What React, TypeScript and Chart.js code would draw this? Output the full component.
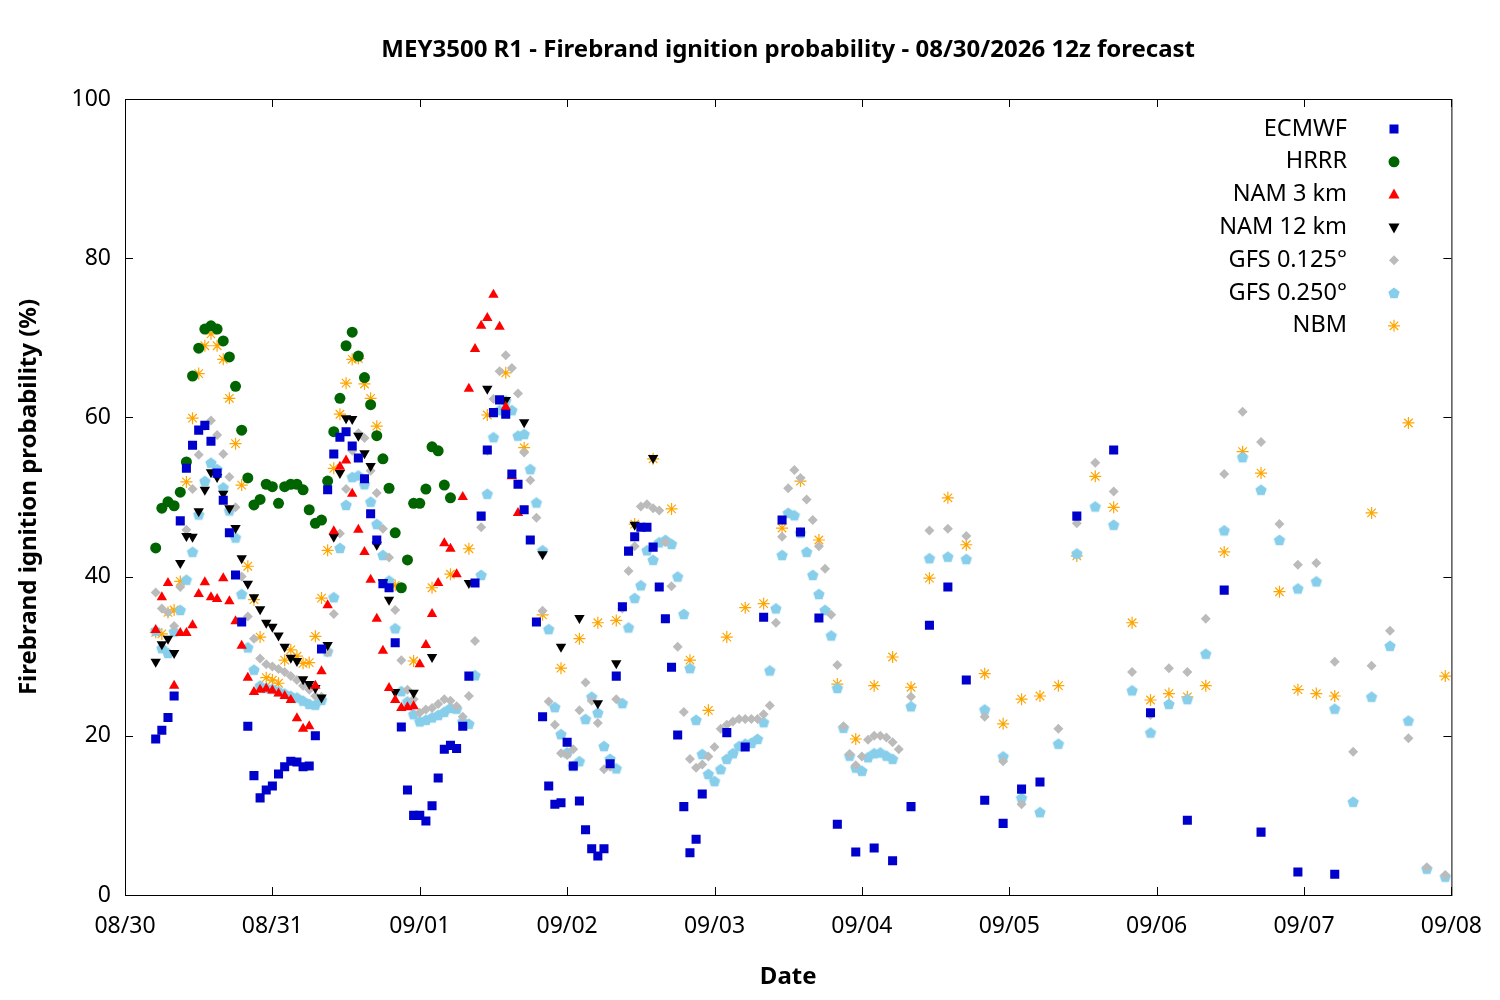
import React, { useEffect, useRef } from "react";
import { Chart, registerables } from "chart.js";
Chart.register(...registerables);

const dateLabels = ["08/30", "08/31", "09/01", "09/02", "09/03", "09/04", "09/05", "09/06", "09/07", "09/08"];
const yTicks = [0, 20, 40, 60, 80, 100];

// ECMWF: hourly from h5, 3-hourly from h98, 6-hourly from h155
const ecmwfHourly = [19.6,20.7,22.3,25,47,53.6,56.5,58.4,59,57,53,49.6,45.5,40.2,34.3,21.2,15,12.2,13.2,13.7,15.2,16.1,16.8,16.7,16.1,16.2,20,30.9,50.9,55.4,57.5,58.2,56.4,54.9,52.3,47.9,44.6,39.1,38.6,31.7,21.1,13.2,10,10,9.3,11.2,14.7,18.3,18.8,18.4,21.2,27.5,39.2,47.6,55.9,60.6,62.2,60.4,52.9,51.6,48.4,44.6,34.3,22.4,13.7,11.4,11.6,19.2,16.2,11.8,8.2,5.8,4.9,5.8,16.5,27.5,36.2,43.2,45,46.2,46.2,43.7,38.7,34.7,28.6,20.1,11.1,5.3,7,12.7];
const ecmwf3h = [20.4,18.6,34.9,47.1,45.6,34.8,8.9,5.4,5.9,4.3,11.1,33.9,38.7,27,11.9,9,13.3,14.2];
const ecmwf6h = [47.6,55.9,22.9,9.4,38.3,7.9,2.9,2.6];

const hrrrHourly = [43.6,48.6,49.4,48.9,50.6,54.4,65.2,68.7,71.1,71.5,71.1,69.6,67.6,63.9,58.4,52.4,49,49.7,51.6,51.3,49.2,51.3,51.6,51.6,50.9,48.4,46.7,47.1,52,58.2,62.4,69,70.7,67.7,65,61.6,57.7,54.8,51.1,45.5,38.6,42.1,49.2,49.2,51,56.3,55.8,51.5,49.9];

const nam3Hourly = [33.3,37.4,39.2,26.3,32.9,32.9,33.9,37.8,39.3,37.4,37.2,39.8,36.9,34.4,31.3,27.3,25.5,25.8,25.9,25.7,25.3,25,24.5,22.2,20.9,21.2,26.3,28.1,36.4,45.7,53.8,54.6,50.4,45.9,43.1,39.6,34.7,30.7,26,24.5,23.5,23.6,23.7,29,31.4,35.3,39.2,44.2,43.5,40.3,50,63.6,68.6,71.5,72.5,75.4,71.4,61.3,52.6,48];

const nam12Hourly = [29.3,31.5,32.2,30.4,41.7,45.1,45,48.2,50.9,53.1,52.5,50.4,48.6,46.1,42.3,39.1,37.4,35.9,34.2,33.7,32.6,31.2,29.8,29.4,27.1,26.5,26,24.8,31.4,45,53,59.9,59.8,57.7,55.5,53.9,44,39.3,37.1,25.5];
const nam12LaterHours = [47, 50, 56, 59, 62, 65, 68, 71, 74, 77, 80, 83, 86];
const nam12LaterValues = [25.4, 29.9, 39.2, 63.6, 62.2, 59.4, 42.8, 31.2, 34.8, 24.1, 29.1, 46.5, 54.9];

const gfs125Hourly = [38,36,35.5,33.8,38.7,45.9,51,55.3,58.9,59.6,57.8,55.4,52.5,48.7,40,35,32.2,29.7,29,28.7,28.4,28,27.5,27,26.3,25.8,25,24.9,30.5,35.3,45.4,51,55.8,58,57.4,53.3,50.5,46,42.4,35.8,29.5,25.8,24.6,22.9,23.3,23.5,24,24.6,24.4,23.7,22.4,25,31.9,46.2,55.8,62.3,65.8,67.8,66.2,63,55.6,52.1,47.4,35.7,24.3,21.4,17.8,17.6,18.3,23.2,26.7,24.4,21.6,15.8,16.1,24.6,36,40.7,43.8,48.8,49.1,48.6,48.3,44.3,38.8,31.2,23,17.1,16,16.4,17.4,18.6,20.9,21.4,21.8,22.1,22.1,22.1,22.1,22.7,23.8,34.2,45,51.1,53.4,52.4,49.7,47.1,43.8,41,35.2,28.9,21.2,17.7,16.3,17.4,19.5,20,20,19.8,19.2,18.3];
const gfs1253h = [24.9,45.8,46,45.1,22.4,16.8,11.4,null,20.9,46.7,54.3,50.7,28,22.6,28.5,28,34.7,52.9,60.7,56.9,46.6,41.5,41.7,29.3,18,28.8,33.2,19.7,3.5,2.5];

const gfs250Hourly = [33.2,31,30.4,33.1,35.8,39.6,43.1,47.8,52,54.3,53.5,51.2,48.3,44.9,37.8,31.1,28.3,26.3,26,25.9,25.6,25.3,25,24.8,24.4,24,23.9,24.5,30.6,37.4,43.6,49,52.5,52.7,51.6,49.4,46.6,42.7,39.5,33.5,25.6,24.3,22.7,21.8,22,22.3,22.6,23,23.5,23.4,21.8,21.5,27.6,40.2,50.4,57.5,60.9,62.1,60.9,57.7,57.9,53.5,49.3,43.3,33.4,23.6,20.2,17.9,16.2,16.8,22.1,24.9,22.9,18.7,17.1,15.9,24.1,33.6,37.3,38.9,43.3,42.1,44.3,44.6,44.1,40,35.3,28.5,22,17.7,15.2,14.3,15.8,17.1,17.8,18.7,19,19.1,19.6,21.7,28.2,36,42.7,48,47.7,45.5,43.1,40.2,37.8,35.8,32.6,26,21,17.5,16,15.6,17.3,17.8,17.9,17.5,17.1];
const gfs2503h = [23.7,42.3,42.5,42.2,23.3,17.4,12.2,10.4,19,42.9,48.8,46.5,25.7,20.4,24,24.6,30.3,45.8,55,50.9,44.6,38.5,39.4,23.4,11.7,24.9,31.3,21.9,3.3,2.3];

const nbmHourly = [33,32.8,35.5,35.8,39.4,51.9,59.9,65.5,69,70.5,69,67.3,62.4,56.7,51.5,41.3,37.1,32.4,27.3,27,26.6,29.5,30.8,30,29.1,29.2,32.5,37.3,43.3,53.6,60.4,64.3,67.3,67.4,64.2,62.4,58.9];
const nbmMidHours = [43, 44];
const nbmMidValues = [39.2, 38.9];
const nbm3h = [29.4,38.6,40.3,43.5,60.3,65.6,56.2,35.2,28.5,32.2,34.2,34.5,46.6,54.8,48.5,29.5,23.2,32.4,36.1,36.6,46.1,52,44.6,26.5,19.6,26.3,29.9,26.1,39.8,49.9,44,27.8,21.5,24.6,25,26.3,42.6,52.6,48.7,34.2,24.5,25.3,24.9,26.3,43.1,55.7,53,38.1,25.8,25.3,25];
const nbm6h = [48, 59.3, 27.5];

function seq(start: number, step: number, vals: (number | null)[]) {
  const out: { x: number; y: number }[] = [];
  vals.forEach((v, i) => { if (v !== null) out.push({ x: start + i * step, y: v }); });
  return out;
}
function pairs(hs: number[], vs: number[]) {
  return hs.map((h, i) => ({ x: h, y: vs[i] }));
}

function makePentagon(color: string, r: number) {
  const c = document.createElement("canvas");
  const s = Math.ceil(r * 2 + 2);
  c.width = s; c.height = s;
  const g = c.getContext("2d")!;
  g.fillStyle = color;
  g.beginPath();
  for (let i = 0; i < 5; i++) {
    const a = -Math.PI / 2 + (i * 2 * Math.PI) / 5;
    const px = s / 2 + r * Math.cos(a), py = s / 2 + r * Math.sin(a) + 0.5;
    if (i === 0) g.moveTo(px, py); else g.lineTo(px, py);
  }
  g.closePath(); g.fill();
  return c;
}

const FONT = "'Noto Sans', 'Open Sans', sans-serif";

export default function App() {
  const ref = useRef<HTMLCanvasElement>(null);
  useEffect(() => {
    const pent = makePentagon("#87ceeb", 6);
    const datasets: any[] = [
      { label: "ECMWF", data: [...seq(5, 1, ecmwfHourly), ...seq(98, 3, ecmwf3h), ...seq(155, 6, ecmwf6h)], pointStyle: "rect", pointRadius: 6.4, backgroundColor: "#0000cc", borderWidth: 0, borderColor: "#0000cc" },
      { label: "HRRR", data: seq(5, 1, hrrrHourly), pointStyle: "circle", pointRadius: 5.5, backgroundColor: "#006400", borderWidth: 0 },
      { label: "NAM 3 km", data: seq(5, 1, nam3Hourly), pointStyle: "triangle", pointRadius: 6, backgroundColor: "#ff0000", borderWidth: 0 },
      { label: "NAM 12 km", data: [...seq(5, 1, nam12Hourly), ...pairs(nam12LaterHours, nam12LaterValues)], pointStyle: "triangle", rotation: 180, pointRadius: 6, backgroundColor: "#000000", borderWidth: 0 },
      { label: "GFS 0.125°", data: [...seq(5, 1, gfs125Hourly), ...seq(128, 3, gfs1253h)], pointStyle: "rectRot", pointRadius: 5, backgroundColor: "#bbbbbb", borderWidth: 0 },
      { label: "GFS 0.250°", data: [...seq(5, 1, gfs250Hourly), ...seq(128, 3, gfs2503h)], pointStyle: pent, pointRadius: 6, backgroundColor: "#87ceeb", borderWidth: 0 },
      { label: "NBM", data: [...seq(5, 1, nbmHourly), ...pairs(nbmMidHours, nbmMidValues), ...seq(47, 3, nbm3h), ...seq(203, 6, nbm6h)], pointStyle: "star", pointRadius: 6, borderColor: "#ffa500", backgroundColor: "#ffa500", borderWidth: 1.2 },
    ];

    const drawSym = (ctx: CanvasRenderingContext2D, i: number, x: number, y: number) => {
      ctx.save();
      const ds = datasets[i];
      ctx.fillStyle = ds.backgroundColor; ctx.strokeStyle = ds.borderColor || ds.backgroundColor;
      ctx.beginPath();
      if (i === 0) { ctx.fillRect(x - 4.5, y - 4.5, 9, 9); }
      else if (i === 1) { ctx.arc(x, y, 5.5, 0, Math.PI * 2); ctx.fill(); }
      else if (i === 2 || i === 3) {
        const d = i === 2 ? 1 : -1;
        ctx.moveTo(x, y - 6 * d); ctx.lineTo(x - 5.5, y + 4 * d); ctx.lineTo(x + 5.5, y + 4 * d); ctx.closePath(); ctx.fill();
      } else if (i === 4) { ctx.moveTo(x, y - 5); ctx.lineTo(x + 5, y); ctx.lineTo(x, y + 5); ctx.lineTo(x - 5, y); ctx.closePath(); ctx.fill(); }
      else if (i === 5) { ctx.drawImage(pent, x - pent.width / 2, y - pent.height / 2); }
      else {
        ctx.lineWidth = 1.2;
        for (let k = 0; k < 4; k++) { const a = (k * Math.PI) / 4; ctx.moveTo(x - 6 * Math.cos(a), y - 6 * Math.sin(a)); ctx.lineTo(x + 6 * Math.cos(a), y + 6 * Math.sin(a)); }
        ctx.stroke();
      }
      ctx.restore();
    };

    const deco = {
      id: "deco",
      afterDraw(chart: any) {
        const { ctx, chartArea: a, scales } = chart;
        ctx.save();
        ctx.strokeStyle = "#000"; ctx.lineWidth = 1;
        ctx.strokeRect(a.left + 0.5, a.top + 0.5, a.right - a.left, a.bottom - a.top);
        ctx.beginPath();
        for (let i = 0; i < dateLabels.length; i++) {
          const x = Math.round(scales.x.getPixelForValue(i * 24)) + 0.5;
          ctx.moveTo(x, a.bottom); ctx.lineTo(x, a.bottom - 8);
          ctx.moveTo(x, a.top); ctx.lineTo(x, a.top + 8);
        }
        yTicks.forEach((v) => {
          const y = Math.round(scales.y.getPixelForValue(v)) + 0.5;
          ctx.moveTo(a.left, y); ctx.lineTo(a.left + 8, y);
          ctx.moveTo(a.right, y); ctx.lineTo(a.right - 8, y);
        });
        ctx.stroke();
        ctx.fillStyle = "#000";
        ctx.font = `bold 24px ${FONT}`;
        ctx.textAlign = "center"; ctx.textBaseline = "middle";
        ctx.fillText("MEY3500 R1 - Firebrand ignition probability - 08/30/2026 12z forecast", (a.left + a.right) / 2, 50);
        ctx.fillText("Date", (a.left + a.right) / 2, 977);
        ctx.save(); ctx.translate(29, (a.top + a.bottom) / 2); ctx.rotate(-Math.PI / 2);
        ctx.fillText("Firebrand ignition probability (%)", 0, 0); ctx.restore();
        ctx.font = `23.5px ${FONT}`; ctx.textAlign = "right";
        datasets.forEach((ds, i) => {
          const y = 129 + i * 32.8;
          ctx.fillText(ds.label, 1347, y);
          drawSym(ctx, i, 1394, y);
        });
        ctx.restore();
      },
    };

    const chart = new Chart(ref.current!, {
      type: "scatter",
      data: { datasets },
      plugins: [deco],
      options: {
        animation: false, responsive: true, maintainAspectRatio: false,
        layout: { padding: { left: 0, right: 43, top: 99, bottom: 0 } },
        plugins: { legend: { display: false }, title: { display: false }, tooltip: { enabled: false } },
        scales: {
          x: {
            type: "linear", min: 0, max: 216,
            grid: { display: false, drawTicks: false }, border: { display: false },
            afterFit: (s: any) => { s.height = 105; },
            ticks: { stepSize: 24, autoSkip: false, maxRotation: 0, padding: 18, color: "#000", font: { family: FONT, size: 23 }, callback: (v: any) => dateLabels[Math.round(Number(v) / 24)] },
          },
          y: {
            min: 0, max: 100,
            grid: { display: false, drawTicks: false }, border: { display: false },
            afterFit: (s: any) => { s.width = 125; },
            ticks: { stepSize: 20, padding: 14, color: "#000", font: { family: FONT, size: 23 } },
          },
        },
      } as any,
    });
    return () => chart.destroy();
  }, []);
  return (
    <div style={{ position: "fixed", left: 0, top: 0, width: 1500, height: 1000, background: "#fff" }}>
      <canvas ref={ref} />
    </div>
  );
}
